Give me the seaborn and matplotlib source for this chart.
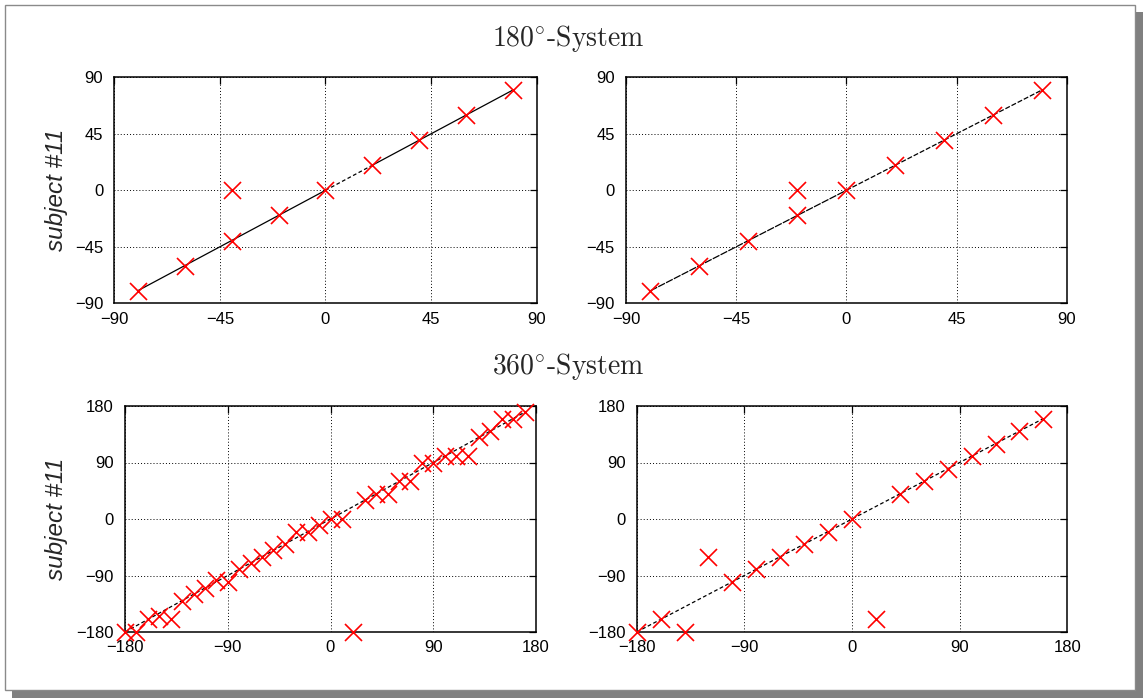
import matplotlib
matplotlib.use("Agg")
import matplotlib.pyplot as plt
from matplotlib.patches import Rectangle
import seaborn as sns
import pandas as pd

# ---------------- data ----------------
tl_x = [-80, -60, -40, -40, -20, 0, 20, 40, 60, 80]
tl_y = [-80, -60, 0, -40, -20, 0, 20, 40, 60, 80]
tl_line_x = [-80, 0, 20, 80]

tr_x = [-80, -60, -40, -20, -20, 0, 20, 40, 60, 80]
tr_y = [-80, -60, -40, 0, -20, 0, 20, 40, 60, 80]
tr_line_x = [-80, 0, 80]

bl_x = [-180, -170, -160, -150, -140, -130, -120, -110, -100, -90, -80, -70, -60,
        -50, -40, -30, -20, -10, 0, 10, 20, 30, 40, 50, 60, 70, 80, 90, 100, 110,
        120, 130, 140, 150, 160, 170]
bl_y = [-180, -180, -160, -155, -160, -130, -120, -110, -97, -100, -80, -70, -60,
        -50, -40, -20, -20, -10, 0, 0, -180, 30, 40, 40, 60, 60, 90, 90, 100, 100,
        100, 130, 140, 160, 160, 170]
bl_line_x = [-180, 170]

br_x = [-180, -160, -140, -120, -100, -80, -60, -40, -20, 0, 20, 40, 60, 80, 100,
        120, 140, 160]
br_y = [-180, -160, -180, -60, -100, -80, -60, -40, -20, 0, -160, 40, 60, 80, 100,
        120, 140, 160]
br_line_x = [-180, 160]

ticks_180 = [-90, -45, 0, 45, 90]
ticks_360 = [-180, -90, 0, 90, 180]
titles = ["180$^{\\circ}$-System", "360$^{\\circ}$-System"]
ylabel = "subject #11"

# ---------------- style ----------------
sns.set_theme(style="white")
plt.rcParams["font.family"] = ["Liberation Sans", "DejaVu Sans"]
plt.rcParams["mathtext.fontset"] = "cm"

W, H = 1145, 700
fig = plt.figure(figsize=(W / 100, H / 100), dpi=100)
fig.patch.set_facecolor("white")

# page shadow + page
fig.patches.append(Rectangle((12 / W, 1 - 698 / H), (1143 - 12) / W, (698 - 12) / H,
                             transform=fig.transFigure, facecolor="#808080",
                             edgecolor="none", zorder=-3))
fig.patches.append(Rectangle((5 / W, 1 - 690 / H), (1135 - 5) / W, (690 - 5) / H,
                             transform=fig.transFigure, facecolor="white",
                             edgecolor="#8a8a8a", linewidth=1.0, zorder=-2))


def px_rect(l, t, r, b):
    return [l / W, 1 - b / H, (r - l) / W, (b - t) / H]


def style_axes(ax, ticks):
    ax.set_xlim(ticks[0], ticks[-1])
    ax.set_ylim(ticks[0], ticks[-1])
    ax.set_xticks(ticks)
    ax.set_yticks(ticks)
    ax.grid(True, color="black", linestyle=(0, (1, 2.2)), linewidth=0.7)
    ax.tick_params(direction="in", length=5, width=0.9, top=True, right=True,
                   labelsize=12, colors="black")
    ax.tick_params(axis="x", pad=6)
    ax.tick_params(axis="y", pad=8)
    for s in ax.spines.values():
        s.set_color("black")
        s.set_linewidth(1.1)
    ax.set_facecolor("white")
    ax.set_xlabel("")
    ax.set_ylabel("")


def scatter(ax, xs, ys):
    df = pd.DataFrame({"x": xs, "y": ys})
    sns.scatterplot(data=df, x="x", y="y", ax=ax, marker="x", color="red",
                    s=150, linewidth=1.2, zorder=4, clip_on=False)


def line(ax, xs, ls, lw=0.9):
    df = pd.DataFrame({"x": xs, "y": xs})
    sns.lineplot(data=df, x="x", y="y", ax=ax, color="black", linewidth=lw,
                 linestyle=ls, zorder=3, sort=False)


ax_tl = fig.add_axes(px_rect(114.3, 77.3, 536.7, 303.3))
ax_tr = fig.add_axes(px_rect(626, 77.3, 1066.7, 303.3))
ax_bl = fig.add_axes(px_rect(125, 406, 536, 632))
ax_br = fig.add_axes(px_rect(636.7, 406, 1067.3, 632))

# top-left lines: solid, dashed, solid
line(ax_tl, tl_line_x[0:2], "-")
line(ax_tl, tl_line_x[1:3], (0, (3, 2)))
line(ax_tl, tl_line_x[2:4], "-")
scatter(ax_tl, tl_x, tl_y)
style_axes(ax_tl, ticks_180)

line(ax_tr, tr_line_x[0:2], (0, (6, 1)))
line(ax_tr, tr_line_x[1:3], (0, (4, 1.5)))
scatter(ax_tr, tr_x, tr_y)
style_axes(ax_tr, ticks_180)

line(ax_bl, bl_line_x, (0, (3, 2)))
scatter(ax_bl, bl_x, bl_y)
style_axes(ax_bl, ticks_360)

line(ax_br, br_line_x, (0, (3, 2)))
scatter(ax_br, br_x, br_y)
style_axes(ax_br, ticks_360)

# titles
for yc, t in zip((38, 366), titles):
    fig.text(568 / W, 1 - yc / H, t, ha="center", va="center",
             fontsize=20, family=["cmr10", "DejaVu Serif"])

# y labels
for yc in (190, 519):
    fig.text(56 / W, 1 - yc / H, ylabel, rotation=90, ha="center", va="center",
             fontsize=17.5, style="italic", family=["Liberation Sans", "DejaVu Sans"])

fig.savefig("out.png", dpi=100, facecolor=fig.get_facecolor())
